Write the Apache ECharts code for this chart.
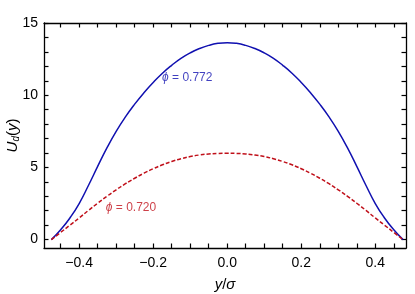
<!DOCTYPE html>
<html><head><meta charset="utf-8">
<script src="https://cdn.jsdelivr.net/npm/echarts@6/dist/echarts.min.js"></script>
<style>html,body{margin:0;padding:0;background:#fff}#c{width:415px;height:294px}</style>
</head><body><div id="c"></div>
<script>
var xs = [-0.475,-0.45,-0.425,-0.4,-0.375,-0.35,-0.325,-0.3,-0.275,-0.25,-0.225,-0.2,-0.175,-0.15,-0.125,-0.1,-0.075,-0.05,-0.025,0,
  0.025,0.05,0.075,0.1,0.125,0.15,0.175,0.2,0.225,0.25,0.275,0.3,0.325,0.35,0.375,0.4,0.425,0.45,0.475];
var blueU = [0,0.68,1.5,2.5,3.75,5.07,6.35,7.5,8.5,9.38,10.17,10.88,11.52,12.07,12.55,12.93,13.23,13.45,13.59,13.64,
  13.59,13.45,13.23,12.93,12.55,12.07,11.52,10.88,10.17,9.38,8.5,7.5,6.35,5.07,3.75,2.5,1.5,0.68,0];
var redU = [0,0.5,1.0,1.5,2.02,2.52,3.0,3.45,3.87,4.25,4.6,4.91,5.18,5.41,5.6,5.75,5.86,5.93,5.97,5.98,
  5.97,5.93,5.86,5.75,5.6,5.41,5.18,4.91,4.6,4.25,3.87,3.45,3.0,2.52,2.02,1.5,1.0,0.5,0];
var xLabels = [-0.4,-0.2,0,0.2,0.4];
var xTicks = [-0.45,-0.4,-0.35,-0.3,-0.25,-0.2,-0.15,-0.1,-0.05,0,0.05,0.1,0.15,0.2,0.25,0.3,0.35,0.4,0.45];
var yLabels = [0,5,10,15];
var yTicks = [0,1,2,3,4,5,6,7,8,9,10,11,12,13,14,15];
var blueLabel = {x:-0.176, y:11.2, phi:'0.772'};
var redLabel = {x:-0.328, y:2.24, phi:'0.720'};

var XMIN=-0.495, XMAX=0.483, YMIN=-0.58, YMAX=15;
var FONT='Liberation Sans';
function fmtX(v){ var s=Math.abs(v).toFixed(1); return v<-1e-9 ? '\u2212'+s : s; }
var lineStyleAxis={color:'#000',width:1.3};
function xAxisCfg(pos, show){
  return {type:'value',position:pos,min:XMIN,max:XMAX,
    axisLine:{show:true,onZero:false,lineStyle:lineStyleAxis},
    axisTick:{show:true,inside:true,length:4.5,customValues:xTicks,lineStyle:{color:'#000',width:1.2}},
    axisLabel:{show:show,customValues:xLabels,formatter:fmtX,color:'#000',fontFamily:FONT,fontSize:14,margin:8},
    splitLine:{show:false},
    name: show?'{i|y}/{i|\u03c3}':'', nameLocation:'middle', nameGap:29, nameMoveOverlap:false,
    nameTextStyle:{rich:{i:{fontStyle:'italic',fontFamily:FONT,fontSize:15,color:'#000'}},fontFamily:FONT,fontSize:15,color:'#000'}
  };
}
function yAxisCfg(pos, show){
  return {type:'value',position:pos,min:YMIN,max:YMAX,
    axisLine:{show:true,onZero:false,lineStyle:lineStyleAxis},
    axisTick:{show:true,inside:true,length:4.5,customValues:yTicks,lineStyle:{color:'#000',width:1.2}},
    axisLabel:{show:show,customValues:yLabels,color:'#000',fontFamily:FONT,fontSize:14,margin:6},
    splitLine:{show:false},
    name: show?'{i|U}{s|d}{n|(}{i|y}{n|)}':'', nameLocation:'middle', nameGap:23, nameRotate:90, nameMoveOverlap:false,
    nameTextStyle:{rich:{
      i:{fontStyle:'italic',fontFamily:FONT,fontSize:15,color:'#000'},
      n:{fontFamily:FONT,fontSize:15,color:'#000'},
      s:{fontStyle:'italic',fontFamily:FONT,fontSize:10,color:'#000',verticalAlign:'bottom',padding:[6,0,0,0]}
    }}
  };
}
function pair(arr){ return xs.map(function(x,i){return [x,arr[i]];}); }
function annot(lbl,color){
  return {type:'scatter',xAxisIndex:0,yAxisIndex:0,symbolSize:0,silent:true,
    data:[[lbl.x,lbl.y]],
    label:{show:true,position:'right',distance:0,
      formatter:'{p|\u03d5} = '+lbl.phi,
      color:color,fontFamily:FONT,fontSize:12,
      rich:{p:{fontStyle:'italic',fontFamily:FONT,fontSize:12,color:color}}}};
}
var chart=echarts.init(document.getElementById('c'),null,{renderer:'canvas'});
chart.setOption({
  animation:false,
  grid:{left:44,right:9,top:23,bottom:46,containLabel:false,outerBoundsMode:'none'},
  xAxis:[xAxisCfg('bottom',true),xAxisCfg('top',false)],
  yAxis:[yAxisCfg('left',true),yAxisCfg('right',false)],
  series:[
    {type:'line',data:pair(blueU),smooth:0.5,showSymbol:false,lineStyle:{color:'#1010b0',width:1.5}},
    {type:'line',data:pair(redU),smooth:0.5,showSymbol:false,lineStyle:{color:'#c0101a',width:1.5,type:[4,2]}},
    annot(blueLabel,'#1010b0'),
    annot(redLabel,'#c0101a')
  ]
});
</script></body></html>
